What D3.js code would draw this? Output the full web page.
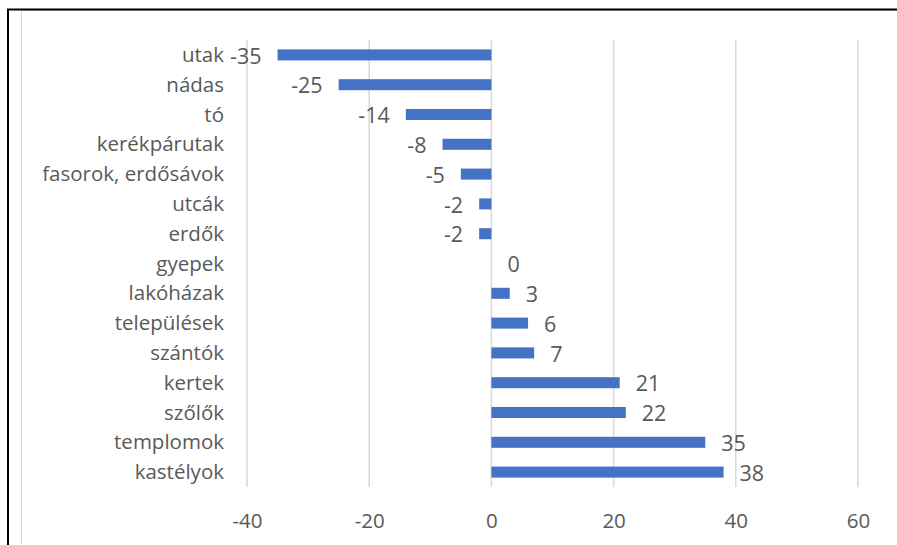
<!DOCTYPE html>
<html>
<head>
<meta charset="utf-8">
<script src="https://cdn.jsdelivr.net/npm/d3@7"></script>
<style>
  html, body { margin: 0; padding: 0; background: #fff; }
  svg { display: block; }
  text { font-family: "Open Sans", sans-serif; fill: #595959; }
</style>
</head>
<body>
<svg id="chart" width="897" height="545"></svg>
<script>
// Change per land-cover category
const categories = ["utak", "nádas", "tó", "kerékpárutak", "fasorok, erdősávok", "utcák", "erdők",
  "gyepek", "lakóházak", "települések", "szántók", "kertek", "szőlők", "templomok", "kastélyok"];
const values = [-35, -25, -14, -8, -5, -2, -2, 0, 3, 6, 7, 21, 22, 35, 38];
const tickValues = [-40, -20, 0, 20, 40, 60];

const svg = d3.select("#chart");
const W = 897, H = 545;

// Outer frame and chart-area border
svg.append("rect")
  .attr("x", 21.5).attr("y", 10.5)
  .attr("width", W).attr("height", H)
  .attr("fill", "none").attr("stroke", "#d9d9d9").attr("stroke-width", 1);
svg.append("rect")
  .attr("x", 8).attr("y", 9.5)
  .attr("width", W + 10).attr("height", H + 10)
  .attr("fill", "none").attr("stroke", "#000").attr("stroke-width", 2);

const x = d3.scaleLinear().domain([-40, 60]).range([247, 858]);
const y = d3.scaleBand().domain(categories).range([40, 487]).paddingInner(0.63).paddingOuter(0.315);

// Vertical gridlines
svg.append("g")
  .selectAll("line")
  .data(tickValues)
  .join("line")
  .attr("x1", d => x(d)).attr("x2", d => x(d))
  .attr("y1", 40).attr("y2", 487)
  .attr("stroke", "#d9d9d9").attr("stroke-width", 1.5);

// Bottom axis labels
const xAxis = d3.axisBottom(x).tickValues(tickValues).tickSize(0).tickPadding(0).tickFormat(d3.format("d"));
const gx = svg.append("g").attr("transform", "translate(0,521)").call(xAxis);
gx.select(".domain").remove();
gx.selectAll("text")
  .attr("font-size", 20.5)
  .attr("font-family", "Open Sans, sans-serif")
  .attr("fill", "#595959")
  .attr("dy", "0.36em")
  .text(d => d < 0 ? "-" + Math.abs(d) : d);

// Category labels
const yAxis = d3.axisLeft(y).tickSize(0).tickPadding(0);
const gy = svg.append("g").attr("transform", "translate(224,0)").call(yAxis);
gy.select(".domain").remove();
gy.selectAll("text")
  .attr("font-size", 20.5)
  .attr("font-family", "Open Sans, sans-serif")
  .attr("fill", "#595959")
  .attr("dy", "0.35em");

// Bars
const data = categories.map((c, i) => ({ c, v: values[i] }));
svg.append("g")
  .selectAll("rect")
  .data(data)
  .join("rect")
  .attr("x", d => Math.min(x(0), x(d.v)))
  .attr("width", d => Math.abs(x(d.v) - x(0)))
  .attr("y", d => y(d.c))
  .attr("height", y.bandwidth())
  .attr("fill", "#4472C4");

// Value labels
svg.append("g")
  .selectAll("text")
  .data(data)
  .join("text")
  .attr("x", d => d.v < 0 ? x(d.v) - 16 : x(d.v) + 16)
  .attr("y", d => y(d.c) + y.bandwidth() / 2)
  .attr("dy", "0.4em")
  .attr("text-anchor", d => d.v < 0 ? "end" : "start")
  .attr("font-size", 21.5)
  .text(d => d.v < 0 ? "-" + Math.abs(d.v) : d.v);
</script>
</body>
</html>
